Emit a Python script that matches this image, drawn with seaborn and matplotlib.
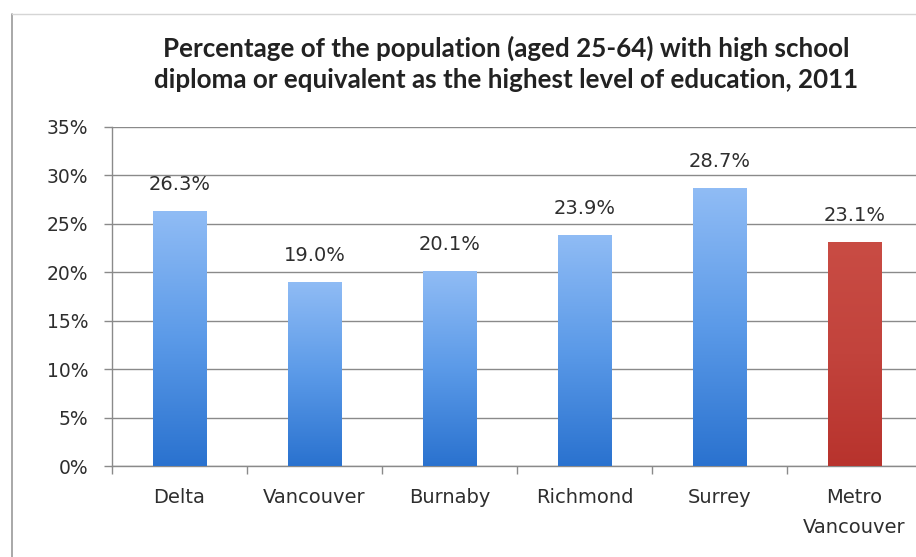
import matplotlib
matplotlib.use("Agg")
import matplotlib.pyplot as plt
import seaborn as sns
import numpy as np
import pandas as pd
from matplotlib.colors import LinearSegmentedColormap
from matplotlib.ticker import FuncFormatter, FixedLocator
from matplotlib.lines import Line2D

categories = ["Delta", "Vancouver", "Burnaby", "Richmond", "Surrey", "Metro\nVancouver"]
values = [26.3, 19.0, 20.1, 23.9, 28.7, 23.1]
value_labels = ["26.3%", "19.0%", "20.1%", "23.9%", "28.7%", "23.1%"]
y_ticks = [0, 5, 10, 15, 20, 25, 30, 35]
title = ("Percentage of the population (aged 25-64) with high school\n"
         "diploma or equivalent as the highest level of education, 2011")

sns.set_theme(style="white")
plt.rcParams['font.family'] = ['DejaVu Sans']

TXT = "#2e2e2e"
fig = plt.figure(figsize=(9.16, 5.57), dpi=100)
ax = fig.add_axes([112/916, 91/557, 810/916, 339/557])

df = pd.DataFrame({"cat": categories, "val": values})
palette = ["#4a8fe0"] * 5 + ["#c0403a"]
sns.barplot(data=df, x="cat", y="val", hue="cat", palette=palette, width=0.4,
            legend=False, ax=ax, zorder=3)

# gradient fills clipped to bars
blue_cmap = LinearSegmentedColormap.from_list("b", ["#2a72cf", "#5b9ae8", "#90bcf5"])
red_cmap = LinearSegmentedColormap.from_list("r", ["#b8332d", "#c2433c", "#c94c44"])
grad = np.linspace(0, 1, 256).reshape(-1, 1)
for i, p in enumerate(ax.patches):
    x0, y0 = p.get_x(), p.get_y()
    w, h = p.get_width(), p.get_height()
    cmap = red_cmap if i == len(ax.patches) - 1 else blue_cmap
    im = ax.imshow(grad, extent=[x0, x0 + w, y0, y0 + h], origin="lower",
                   aspect="auto", cmap=cmap, zorder=3.5)
    im.set_clip_path(p)
    p.set_edgecolor("none")
ax.set_xlim(-0.5, len(categories) - 0.5)
ax.set_ylim(0, 35)

for i, (v, lab) in enumerate(zip(values, value_labels)):
    ax.annotate(lab, (i, v), xytext=(0, 19), textcoords="offset points",
                ha="center", va="center", fontsize=14, color=TXT, zorder=5)

ax.yaxis.set_major_locator(FixedLocator(y_ticks))
ax.yaxis.set_major_formatter(FuncFormatter(lambda v, _: f"{int(v)}%"))
ax.grid(axis="y", color="#8a8a8a", linewidth=1.0, zorder=0)
ax.set_axisbelow(True)

for s in ["top", "right"]:
    ax.spines[s].set_visible(False)
for s in ["left", "bottom"]:
    ax.spines[s].set_color("#8a8a8a")
    ax.spines[s].set_linewidth(1.0)

ax.tick_params(axis="y", which="major", length=6, width=1, color="#8a8a8a",
               labelsize=13.5, labelcolor=TXT, pad=11, left=True)
ax.set_xticks(range(len(categories)))
ax.set_xticklabels(categories, fontsize=14, color=TXT, linespacing=1.7)
ax.set_xticks(np.arange(-0.5, len(categories), 1.0), minor=True)
ax.tick_params(axis="x", which="major", length=0, pad=16)
ax.tick_params(axis="x", which="minor", length=6, width=1, color="#8a8a8a", bottom=True)
ax.set_xlabel("")
ax.set_ylabel("")

fig.text(506/916, 1 - 64/557, title, ha="center", va="center", fontsize=18.7,
         fontweight="bold", color="#222222", linespacing=1.33,
         family=["Lato", "DejaVu Sans"])

# outer chart border (left and top)
fig.add_artist(Line2D([12/916, 12/916], [0, 1 - 14/557], transform=fig.transFigure,
                      color="#9a9a9a", linewidth=1.2))
fig.add_artist(Line2D([12/916, 1], [1 - 14/557, 1 - 14/557], transform=fig.transFigure,
                      color="#d5d5d5", linewidth=1.0))

fig.savefig("out.png", dpi=100)
